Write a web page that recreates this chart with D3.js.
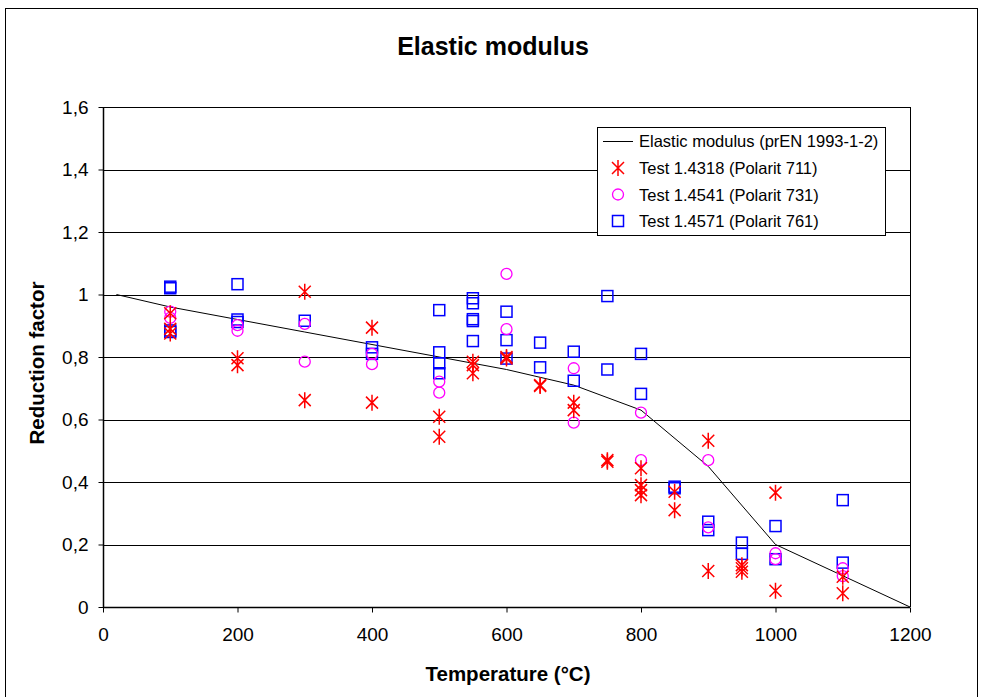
<!DOCTYPE html>
<html>
<head>
<meta charset="utf-8">
<script src="https://cdn.jsdelivr.net/npm/d3@7"></script>
<style>
  html, body { margin: 0; padding: 0; background: #fff; }
  svg { display: block; font-family: "Liberation Sans", Arial, sans-serif; }
</style>
</head>
<body>
<svg id="chart" width="981" height="697"></svg>
<script>
// Reduction factor of the elastic modulus vs. temperature
const xTicks = [0, 200, 400, 600, 800, 1000, 1200];
const yTicks = [0, 0.2, 0.4, 0.6, 0.8, 1.0, 1.2, 1.4, 1.6];

// Design curve (prEN 1993-1-2): [temperature, factor]
const designCurve = [
  [20, 1.00], [100, 0.96], [200, 0.92], [300, 0.88], [400, 0.84],
  [500, 0.80], [600, 0.76], [700, 0.71], [800, 0.63], [900, 0.45],
  [1000, 0.20], [1100, 0.10], [1200, 0.00]
];

// Test 1.4318 (Polarit 711)
const test4318 = [
  [100, 0.94], [100, 0.89], [100, 0.875],
  [200, 0.796], [200, 0.774],
  [300, 1.009], [300, 0.662],
  [400, 0.894], [400, 0.654],
  [500, 0.609], [500, 0.545],
  [550, 0.785], [550, 0.774], [550, 0.748],
  [600, 0.795], [600, 0.80],
  [650, 0.707], [650, 0.71],
  [700, 0.654], [700, 0.63],
  [750, 0.47], [750, 0.465],
  [800, 0.444], [800, 0.39], [800, 0.374], [800, 0.358],
  [850, 0.369], [850, 0.31],
  [900, 0.532], [900, 0.115],
  [950, 0.134], [950, 0.124], [950, 0.113],
  [1000, 0.366], [1000, 0.052],
  [1100, 0.097], [1100, 0.044]
];

// Test 1.4541 (Polarit 731)
const test4541 = [
  [100, 0.945], [100, 0.925],
  [200, 0.902], [200, 0.884],
  [300, 0.906], [300, 0.785],
  [400, 0.81], [400, 0.777],
  [500, 0.721], [500, 0.686],
  [600, 1.066], [600, 0.889],
  [700, 0.764], [700, 0.59],
  [800, 0.622], [800, 0.47],
  [900, 0.47], [900, 0.255],
  [1000, 0.172], [1000, 0.153],
  [1100, 0.124], [1100, 0.099]
];

// Test 1.4571 (Polarit 761)
const test4571 = [
  [100, 1.02], [100, 1.025], [100, 0.88], [100, 0.885],
  [200, 1.033], [200, 0.92], [200, 0.912],
  [300, 0.916],
  [400, 0.831], [400, 0.81],
  [500, 0.95], [500, 0.815], [500, 0.78], [500, 0.748],
  [550, 0.988], [550, 0.972], [550, 0.921], [550, 0.915], [550, 0.851],
  [600, 0.945], [600, 0.854], [600, 0.795],
  [650, 0.846], [650, 0.767],
  [700, 0.817], [700, 0.724],
  [750, 0.995], [750, 0.76],
  [800, 0.81], [800, 0.682],
  [850, 0.385], [850, 0.38],
  [900, 0.273], [900, 0.246],
  [950, 0.206], [950, 0.17],
  [1000, 0.259], [1000, 0.153],
  [1100, 0.342], [1100, 0.142]
];

const legendLabels = [
  "Elastic modulus (prEN 1993-1-2)",
  "Test 1.4318 (Polarit 711)",
  "Test 1.4541 (Polarit 731)",
  "Test 1.4571 (Polarit 761)"
];

const svg = d3.select("#chart");
const plot = { left: 103, right: 910, top: 107, bottom: 607 };

const x = d3.scaleLinear().domain([0, 1200]).range([plot.left, plot.right]);
const y = d3.scaleLinear().domain([0, 1.6]).range([plot.bottom, plot.top]);
const fmt = v => String(+v.toFixed(1)).replace(".", ",");

// outer frame
svg.append("rect")
  .attr("x", 5.5).attr("y", 8.5).attr("width", 972).attr("height", 700)
  .attr("fill", "#fff").attr("stroke", "#000").attr("stroke-width", 1);

// title
svg.append("text")
  .attr("x", 493).attr("y", 55).attr("text-anchor", "middle")
  .attr("font-size", 25).attr("font-weight", "bold")
  .text("Elastic modulus");

// horizontal gridlines
svg.append("g").selectAll("line").data(yTicks.filter(d => d > 0)).join("line")
  .attr("x1", plot.left).attr("x2", plot.right)
  .attr("y1", d => Math.round(y(d)) + 0.5).attr("y2", d => Math.round(y(d)) + 0.5)
  .attr("stroke", "#000").attr("stroke-width", 1);

// right edge of plot area
svg.append("line")
  .attr("x1", plot.right + 0.5).attr("x2", plot.right + 0.5)
  .attr("y1", plot.top).attr("y2", plot.bottom)
  .attr("stroke", "#000");

// axes
const xAxis = d3.axisBottom(x).tickValues(xTicks).tickSize(5).tickPadding(15)
  .tickFormat(d3.format("d"));
const yAxis = d3.axisLeft(y).tickValues(yTicks).tickSize(5).tickPadding(10)
  .tickFormat(fmt);

const gx = svg.append("g")
  .attr("transform", `translate(0,${plot.bottom + 0.5})`).call(xAxis);
const gy = svg.append("g")
  .attr("transform", `translate(${plot.left + 0.5},0)`).call(yAxis);
[gx, gy].forEach(g => {
  g.select(".domain").attr("stroke", "#000").attr("stroke-width", 1.5);
  g.selectAll(".tick line").attr("stroke", "#000");
  g.selectAll(".tick text").attr("font-size", 19).attr("fill", "#000")
    .attr("font-family", "Liberation Sans, Arial, sans-serif");
});
gx.select(".domain").attr("d", `M${plot.left},0H${plot.right}`);
gy.select(".domain").attr("d", `M0,${plot.bottom}V${plot.top}`);

// axis titles
svg.append("text")
  .attr("x", 508).attr("y", 681).attr("text-anchor", "middle")
  .attr("font-size", 20.5).attr("font-weight", "bold")
  .text("Temperature (°C)");
svg.append("text")
  .attr("transform", `translate(44,363) rotate(-90)`)
  .attr("text-anchor", "middle")
  .attr("font-size", 20.5).attr("font-weight", "bold")
  .text("Reduction factor");

// design curve
svg.append("path")
  .datum(designCurve)
  .attr("d", d3.line().x(d => x(d[0])).y(d => y(d[1])))
  .attr("fill", "none").attr("stroke", "#000").attr("stroke-width", 1);

// marker drawers
const asteriskPath = "M-6,-6L6,6M-6,6L6,-6M0,-8V8";
function drawAsterisk(g, cx, cy) {
  g.append("path").attr("transform", `translate(${cx},${cy})`)
    .attr("d", asteriskPath).attr("stroke", "#ff0000").attr("stroke-width", 1.5)
    .attr("fill", "none");
}
function drawCircle(g, cx, cy) {
  g.append("circle").attr("cx", cx).attr("cy", cy).attr("r", 5.5)
    .attr("fill", "none").attr("stroke", "#ff00ff").attr("stroke-width", 1.3);
}
function drawSquare(g, cx, cy) {
  g.append("rect").attr("x", cx - 5.5).attr("y", cy - 5.5)
    .attr("width", 11).attr("height", 11)
    .attr("fill", "none").attr("stroke", "#0000ff").attr("stroke-width", 1.5);
}

const marks = svg.append("g");
test4571.forEach(d => drawSquare(marks, x(d[0]), y(d[1])));
test4541.forEach(d => drawCircle(marks, x(d[0]), y(d[1])));
test4318.forEach(d => drawAsterisk(marks, x(d[0]), y(d[1])));

// legend
const lg = svg.append("g");
lg.append("rect").attr("x", 597.5).attr("y", 127.5).attr("width", 288).attr("height", 108)
  .attr("fill", "#fff").attr("stroke", "#000").attr("stroke-width", 1);
const rowY = [141, 168, 194.5, 221];
lg.append("line").attr("x1", 603).attr("x2", 633)
  .attr("y1", rowY[0] + 0.5).attr("y2", rowY[0] + 0.5).attr("stroke", "#000");
drawAsterisk(lg, 618, rowY[1]);
drawCircle(lg, 618, rowY[2]);
drawSquare(lg, 618, rowY[3]);
legendLabels.forEach((t, i) => {
  lg.append("text").attr("x", 639).attr("y", rowY[i] + 6)
    .attr("font-size", 16.5).text(t);
});
</script>
</body>
</html>
